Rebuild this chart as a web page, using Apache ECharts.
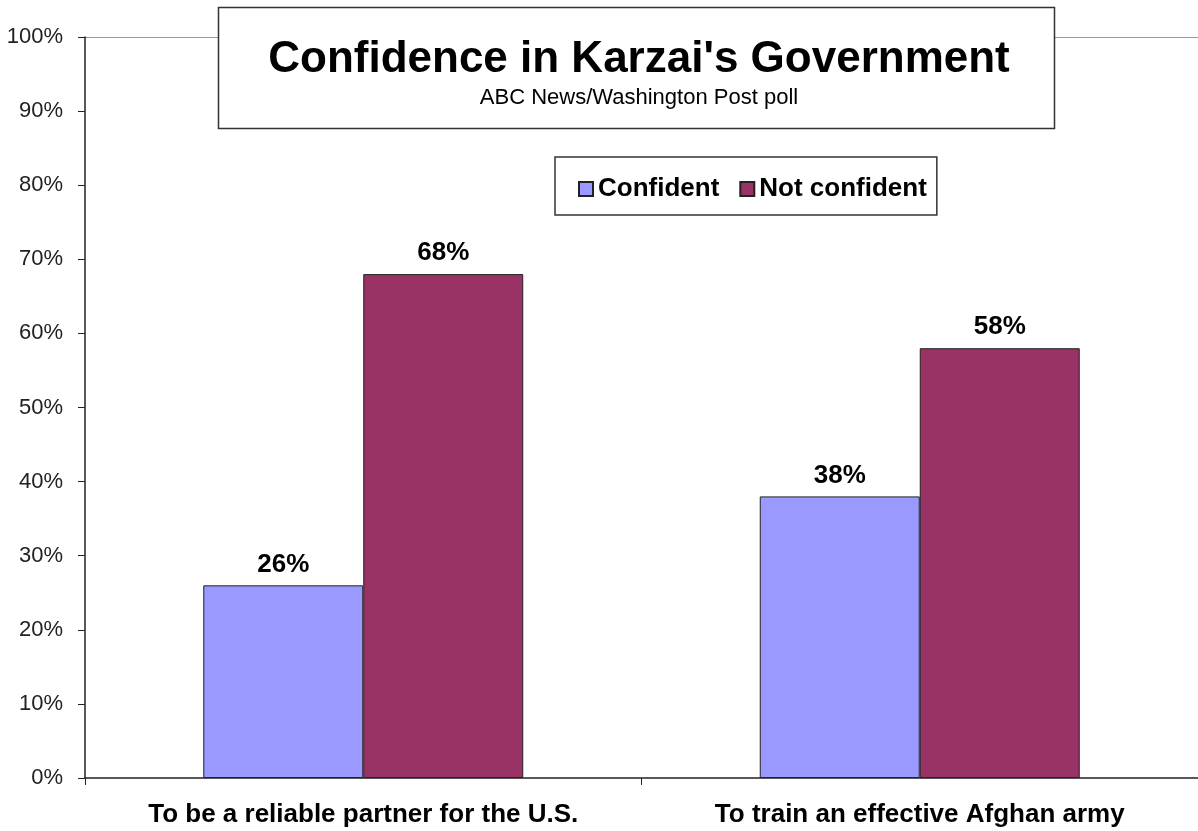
<!DOCTYPE html>
<html>
<head>
<meta charset="utf-8">
<script src="https://cdn.jsdelivr.net/npm/echarts@6/dist/echarts.min.js"></script>
<style>
  html, body { margin: 0; padding: 0; background: #fff; }
  #chart { width: 1198px; height: 831px; }
</style>
</head>
<body>
<div id="chart"></div>
<script>
  var categories = ['To be a reliable partner for the U.S.', 'To train an effective Afghan army'];
  var confident = [26, 38];
  var notConfident = [68, 58];
  var yTicks = [0, 10, 20, 30, 40, 50, 60, 70, 80, 90, 100];

  var chart = echarts.init(document.getElementById('chart'));
  var font = '"Liberation Sans", Arial, sans-serif';

  // only the top (100%) split line is visible
  var splitColors = yTicks.map(function (t) { return t === 100 ? '#999' : 'rgba(0,0,0,0)'; });

  chart.setOption({
    animation: false,
    textStyle: { fontFamily: font },
    title: {
      text: "Confidence in Karzai's Government",
      subtext: 'ABC News/Washington Post poll',
      left: 634,
      textAlign: 'center',
      top: 33,
      itemGap: 5,
      z: 10,
      textStyle: { fontSize: 44, fontWeight: 'bold', color: '#000', fontFamily: font },
      subtextStyle: { fontSize: 22, color: '#000', fontFamily: font }
    },
    graphic: [{
      type: 'rect',
      z: 8,
      shape: { x: 218.5, y: 7.5, width: 836, height: 121 },
      style: { fill: '#fff', stroke: '#333', lineWidth: 1.5 }
    }],
    legend: {
      left: 555,
      top: 157,
      padding: [19, 10, 13, 23],
      itemGap: 20,
      itemWidth: 14,
      itemHeight: 14,
      borderColor: '#333',
      borderWidth: 1.5,
      backgroundColor: '#fff',
      icon: 'rect',
      textStyle: { fontSize: 26, fontWeight: 'bold', color: '#000', fontFamily: font },
      data: ['Confident', 'Not confident']
    },
    grid: { left: 85, right: 0, top: 37, bottom: 53, containLabel: false },
    xAxis: {
      type: 'category',
      data: categories,
      axisLine: { lineStyle: { color: '#222', width: 1.5 } },
      axisTick: { show: true, interval: 0, alignWithLabel: false, length: 7, lineStyle: { color: '#222' } },
      axisLabel: { interval: 0, hideOverlap: false, fontSize: 26, fontWeight: 'bold', color: '#000', margin: 24, fontFamily: font }
    },
    yAxis: {
      type: 'value',
      min: 0,
      max: 100,
      interval: 10,
      axisLine: { show: true, lineStyle: { color: '#222', width: 1.5 } },
      axisTick: { show: true, length: 7, lineStyle: { color: '#222' } },
      axisLabel: { formatter: '{value}%', fontSize: 22, color: '#222', margin: 22, fontFamily: font },
      splitLine: { show: true, lineStyle: { color: splitColors, width: 1 } }
    },
    series: [
      {
        name: 'Confident',
        type: 'bar',
        data: confident,
        barGap: '0%',
        barCategoryGap: '42.5%',
        itemStyle: { color: '#9999FF', borderColor: '#222', borderWidth: 1 },
        label: { show: true, position: 'top', distance: 8, formatter: '{c}%', fontSize: 26, fontWeight: 'bold', color: '#000', fontFamily: font }
      },
      {
        name: 'Not confident',
        type: 'bar',
        data: notConfident,
        itemStyle: { color: '#993366', borderColor: '#222', borderWidth: 1 },
        label: { show: true, position: 'top', distance: 8, formatter: '{c}%', fontSize: 26, fontWeight: 'bold', color: '#000', fontFamily: font }
      }
    ]
  });
</script>
</body>
</html>
